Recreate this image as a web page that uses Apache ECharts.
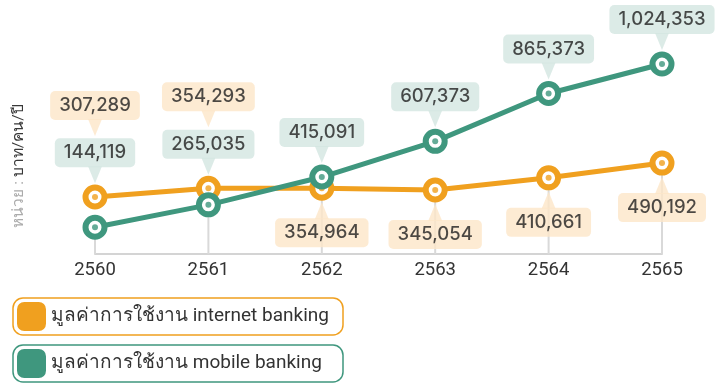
<!DOCTYPE html>
<html>
<head>
<meta charset="utf-8">
<script src="https://cdn.jsdelivr.net/npm/echarts@6/dist/echarts.min.js"></script>
<style>
  html, body { margin: 0; padding: 0; background: #fff; }
  #chart { width: 726px; height: 383px; }
</style>
</head>
<body>
<div id="chart"></div>
<script>
// Average transaction value per person per year, by channel
const years = ['2560', '2561', '2562', '2563', '2564', '2565'];
const internetBanking = [307289, 354293, 354964, 345054, 410661, 490192];
const mobileBanking = [144119, 265035, 415091, 607373, 865373, 1024353];
const seriesNames = ['มูลค่าการใช้งาน internet banking', 'มูลค่าการใช้งาน mobile banking'];

// Colours
const ORANGE = '#F0A01F';
const GREEN = '#3F977E';
const ORANGE_SOFT = '#FCE6C8';
const GREEN_SOFT = '#D3E6E1';
const FONT = 'Roboto, "Noto Sans", sans-serif';
const CALLOUT_FONT = 'Inter, Roboto, sans-serif';

// Callout placement: which side of the point, and extra lift (px) where labels stack
const internetSide = ['up', 'up', 'down', 'down', 'down', 'down'];
const internetLift = [47, 47, 0, 0, 0, 0];
const mobileSide = ['up', 'up', 'up', 'up', 'up', 'up'];
const mobileLift = [30, 16, 0, 0, 0, 0];

const GAP = 15;     // point centre to pointer tip
const PTR_H = 16;   // pointer height
const BOX_H = 29;   // callout box height

const fmt = v => v.toLocaleString('en-US');

function pointerData(values, sides, lifts) {
  return values.map((v, i) => {
    const dir = sides[i] === 'up' ? -1 : 1;
    return {
      value: [i, v],
      symbolRotate: sides[i] === 'up' ? 180 : 0,
      symbolOffset: [0, dir * (GAP + lifts[i] + PTR_H / 2 - 0.5)]
    };
  });
}

function labelData(values, sides, lifts) {
  return values.map((v, i) => {
    const dir = sides[i] === 'up' ? -1 : 1;
    return {
      value: [i, v],
      label: { offset: [0, dir * (GAP + lifts[i] + PTR_H + BOX_H / 2 - 1)] }
    };
  });
}

function calloutLabelSeries(values, sides, lifts, bg) {
  return {
    type: 'scatter',
    data: labelData(values, sides, lifts),
    symbolSize: 1,
    itemStyle: { color: 'transparent' },
    silent: true,
    z: 6,
    label: {
      show: true,
      position: 'inside',
      formatter: p => fmt(p.value[1]),
      fontFamily: CALLOUT_FONT,
      fontSize: 18.5,
      fontWeight: 500,
      color: '#1f1f1f',
      backgroundColor: bg,
      borderRadius: 5,
      padding: [5, 9, 5, 9],
      lineHeight: 19
    }
  };
}

function pointerSeries(values, sides, lifts, bg) {
  return {
    type: 'scatter',
    data: pointerData(values, sides, lifts),
    symbol: 'triangle',
    symbolSize: [14, PTR_H + 1],
    itemStyle: { color: bg },
    silent: true,
    z: 5
  };
}

function lineSeries(name, values, color) {
  return {
    name: name,
    type: 'line',
    data: values,
    symbol: 'circle',
    symbolSize: 19,
    showSymbol: true,
    lineStyle: { color: color, width: 5 },
    itemStyle: { color: '#fff', borderColor: color, borderWidth: 6 },
    z: 3
  };
}

function dotSeries(values, color) {
  return {
    type: 'scatter',
    data: values.map((v, i) => [i, v]),
    symbolSize: 6,
    itemStyle: { color: color },
    silent: true,
    z: 3
  };
}

// Gray drop line from the lower point of each year down to the axis
const dropLines = years.map((y, i) => Math.min(internetBanking[i], mobileBanking[i]));

// Legend boxes share one outer width; pad the right side to fill it
const LEGEND_FONT_SIZE = 19;
const LEGEND_OUTER_W = 332;
const measureCtx = document.createElement('canvas').getContext('2d');
function textWidth(str) {
  measureCtx.font = LEGEND_FONT_SIZE + 'px ' + FONT;
  return measureCtx.measureText(str).width;
}

function legendBox(name, color, top) {
  const padRight = Math.max(4, LEGEND_OUTER_W - 4 - 29 - 5 - textWidth(name) - 2);
  return {
    data: [{ name: name, itemStyle: { color: color, borderWidth: 0 } }],
    left: 13,
    top: top,
    orient: 'horizontal',
    icon: 'roundRect',
    itemWidth: 29,
    itemHeight: 29,
    borderColor: color,
    borderWidth: 1.5,
    borderRadius: 10,
    padding: [4, padRight, 4, 4],
    selectedMode: false,
    textStyle: {
      fontFamily: FONT,
      fontSize: LEGEND_FONT_SIZE,
      color: '#333'
    }
  };
}

const chart = echarts.init(document.getElementById('chart'), null, { renderer: 'canvas' });

chart.setOption({
  animation: false,
  backgroundColor: '#fff',
  grid: { left: 95, right: 64, top: 50, bottom: 129 },
  xAxis: {
    type: 'category',
    data: years,
    boundaryGap: false,
    axisLine: { lineStyle: { color: '#d4d4d4', width: 2 } },
    axisTick: { show: false },
    splitLine: { show: false },
    axisLabel: { fontFamily: FONT, fontSize: 18.5, color: '#333', margin: 7 }
  },
  yAxis: {
    type: 'value',
    min: 0,
    max: 1100000,
    show: false
  },
  legend: [
    legendBox(seriesNames[0], ORANGE, 298),
    legendBox(seriesNames[1], GREEN, 345)
  ],
  graphic: [{
    type: 'text',
    x: 19,
    y: 166,
    rotation: Math.PI / 2,
    style: {
      text: '{a|หน่วย : }{b|บาท/คน/ปี}',
      align: 'center',
      verticalAlign: 'middle',
      rich: {
        a: { fontFamily: FONT, fontSize: 15.5, fill: '#ababab', color: '#ababab' },
        b: { fontFamily: FONT, fontSize: 15.5, fill: '#383838', color: '#383838' }
      }
    }
  }],
  series: [
    {
      type: 'bar',
      data: dropLines,
      barWidth: 2,
      itemStyle: { color: '#d9d9d9' },
      silent: true,
      z: 1
    },
    lineSeries(seriesNames[0], internetBanking, ORANGE),
    dotSeries(internetBanking, ORANGE),
    lineSeries(seriesNames[1], mobileBanking, GREEN),
    dotSeries(mobileBanking, GREEN),
    pointerSeries(internetBanking, internetSide, internetLift, ORANGE_SOFT),
    pointerSeries(mobileBanking, mobileSide, mobileLift, GREEN_SOFT),
    calloutLabelSeries(internetBanking, internetSide, internetLift, ORANGE_SOFT),
    calloutLabelSeries(mobileBanking, mobileSide, mobileLift, GREEN_SOFT)
  ]
});
</script>
</body>
</html>
